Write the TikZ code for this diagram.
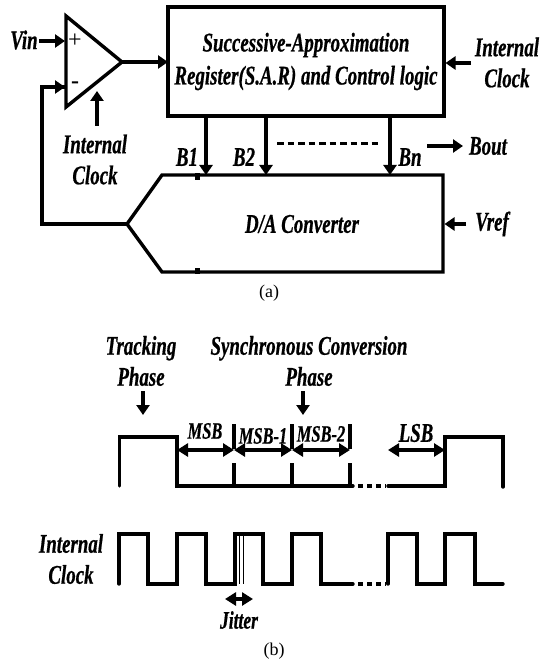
\documentclass[tikz,border=0pt]{standalone}
\usepackage{fontspec}
\setmainfont{Liberation Serif}
\newfontfamily\lblfont[FakeStretch=0.70,FakeBold=0.6]{Liberation Serif}
\usetikzlibrary{arrows.meta,calc}
\tikzset{
  wire/.style={line width=3.4pt,line join=miter,line cap=butt},
  arrowline/.style={wire,-{Triangle[length=10pt,width=13pt]}},
  twoway/.style={wire,{Triangle[length=11pt,width=13pt]}-{Triangle[length=11pt,width=13pt]}},
  lbl/.style={inner sep=0pt,align=center,font=\lblfont\bfseries\itshape\fontsize{27}{31}\selectfont},
  slbl/.style={inner sep=0pt,font=\lblfont\bfseries\itshape\fontsize{23.5}{26}\selectfont},
  captext/.style={inner sep=0pt,font=\fontsize{18}{20}\selectfont},
  blockbox/.style={draw,wire,inner sep=0pt,align=center,font=\lblfont\bfseries\itshape\fontsize{27}{33}\selectfont},
  dots/.style={line width=3.4pt,dash pattern=on 5pt off 4pt}
}
\begin{document}
\begin{tikzpicture}[x=1pt,y=-1pt]
\useasboundingbox (0,0) rectangle (539,663);
% ---------- (a) ----------
\coordinate (opT) at (66,16);
\coordinate (opB) at (66,107);
\coordinate (opO) at (122,62);
\draw[wire] (opT) -- (opO) -- (opB) -- cycle;
\node[inner sep=0pt,font=\fontsize{24}{24}\selectfont] (plus) at (75,41) {+};
\node[inner sep=0pt,font=\bfseries\fontsize{24}{24}\selectfont] (minus) at (75,85) {-};
\node[blockbox,minimum width=276pt,minimum height=109pt] (sar) at (306,61.5) {Successive-Approximation\\Register(S.A.R) and Control logic};
\coordinate (sarIn) at (168,62);
\coordinate (sarClk) at (445.5,63);
\draw[arrowline] (opO) -- (sarIn);
\node[lbl] (vin) at (24,40) {Vin};
\coordinate (vinS) at (39,41);
\coordinate (opP) at (65,41);
\coordinate (opM) at (65,87);
\draw[arrowline] (vinS) -- (opP);
\coordinate (clkA) at (97,126);
\coordinate (clkB) at (97,91);
\draw[arrowline] (clkA) -- (clkB);
\node[lbl] (iclk1) at (95,159.5) {Internal\\Clock};
\node[lbl] (iclk2) at (507,62.5) {Internal\\Clock};
\coordinate (iclkS) at (471,63);
\draw[arrowline] (iclkS) -- (sarClk);
% DAC
\coordinate (dTip) at (127,224);
\coordinate (dTL) at (162,175);
\coordinate (dBL) at (162,272);
\coordinate (dTR) at (443,175);
\coordinate (dBR) at (443,272);
\draw[wire] (dTip) -- (dTL) -- (dTR) -- (dBR) -- (dBL) -- cycle;
\fill (195,173) rectangle (200,180);
\fill (195,268) rectangle (200,274);
\node[lbl] (dac) at (302,224) {D/A Converter};
\coordinate (fbK1) at (42,224);
\coordinate (fbK2) at (42,87);
\draw[wire] (dTip) -- (fbK1) -- (fbK2) -- (opM);
\draw[arrowline] (fbK2) -- (opM);
\foreach \n/\x in {b1/206,b2/266,bn/390}{
  \coordinate (\n s) at (\x,116);
  \coordinate (\n e) at (\x,175);
  \draw[arrowline] (\n s) -- (\n e);
}
\node[lbl] (B1) at (187,157) {B1};
\node[lbl] (B2) at (244,157) {B2};
\node[lbl] (Bn) at (410,157) {Bn};
\coordinate (dashA) at (277,144);
\coordinate (dashB) at (380,144);
\draw[line width=3pt,dash pattern=on 6.5pt off 4pt] (dashA) -- (dashB);
\node[lbl] (bout) at (488,146) {Bout};
\coordinate (boutS) at (427,146);
\coordinate (boutE) at (463,146);
\draw[arrowline] (boutS) -- (boutE);
\node[lbl] (vref) at (492,224) {Vref};
\coordinate (vrefS) at (466,224);
\coordinate (vrefE) at (444.5,224);
\draw[arrowline] (vrefS) -- (vrefE);
\node[captext] (capa) at (269,293) {(a)};
% ---------- (b) ----------
\node[lbl] (track) at (141,361) {Tracking\\Phase};
\node[lbl] (sync) at (309,361) {Synchronous Conversion\\Phase};
\coordinate (tA) at (143,391);
\coordinate (tB) at (143,415);
\coordinate (sA) at (303,391);
\coordinate (sB) at (303,415);
\draw[arrowline] (tA) -- (tB);
\draw[arrowline] (sA) -- (sB);
\draw[wire,line cap=round] (119.5,486) -- (119.5,437) -- (177,437) -- (177,486) -- (353,486);
\draw[dots] (358,486) -- (386,486);
\draw[wire,line cap=round] (388,486) -- (445,486) -- (445,437) -- (503,437) -- (503,487);
\foreach \x in {234,292,350}{
  \draw[wire] (\x,463) -- (\x,486);
  \draw[wire] (\x,424) -- (\x,449);
}
\coordinate (m0) at (177,450);
\coordinate (m1) at (234,450);
\coordinate (m2) at (292,450);
\coordinate (m3) at (350,450);
\coordinate (l0) at (388,450);
\coordinate (l1) at (445,450);
\draw[twoway] (m0) -- (m1);
\draw[twoway] (m1) -- (m2);
\draw[twoway] (m2) -- (m3);
\draw[twoway] (l0) -- (l1);
\node[slbl] (msb) at (205,431) {MSB};
\node[slbl] (msb1) at (263,436) {MSB-1};
\node[slbl] (msb2) at (321,434) {MSB-2};
\node[lbl] (lsb) at (416,433) {LSB};
\node[lbl] (iclk3) at (71,559) {Internal\\Clock};
\draw[wire,line cap=round] (119,584) -- (119,534) -- (148,534) -- (148,584) -- (177,584) -- (177,534) -- (206,534) -- (206,584) -- (235,584) -- (235,534) -- (263,534) -- (263,584) -- (292,584) -- (292,534) -- (321,534) -- (321,584) -- (353,584);
\draw[line width=1.6pt] (239.5,534) -- (239.5,584);
\draw[line width=1.6pt] (243.5,534) -- (243.5,584);
\draw[dots] (358,584) -- (386,584);
\draw[wire,line cap=round] (388,584) -- (388,534) -- (417,534) -- (417,584) -- (445,584) -- (445,534) -- (475,534) -- (475,584) -- (503,584);
\coordinate (jA) at (225,599);
\coordinate (jB) at (253,599);
\draw[twoway] (jA) -- (jB);
\node[slbl,font=\lblfont\bfseries\itshape\fontsize{25}{26}\selectfont] (jit) at (239,620) {Jitter};
\node[captext] (capb) at (274,651) {(b)};
\end{tikzpicture}
\end{document}
